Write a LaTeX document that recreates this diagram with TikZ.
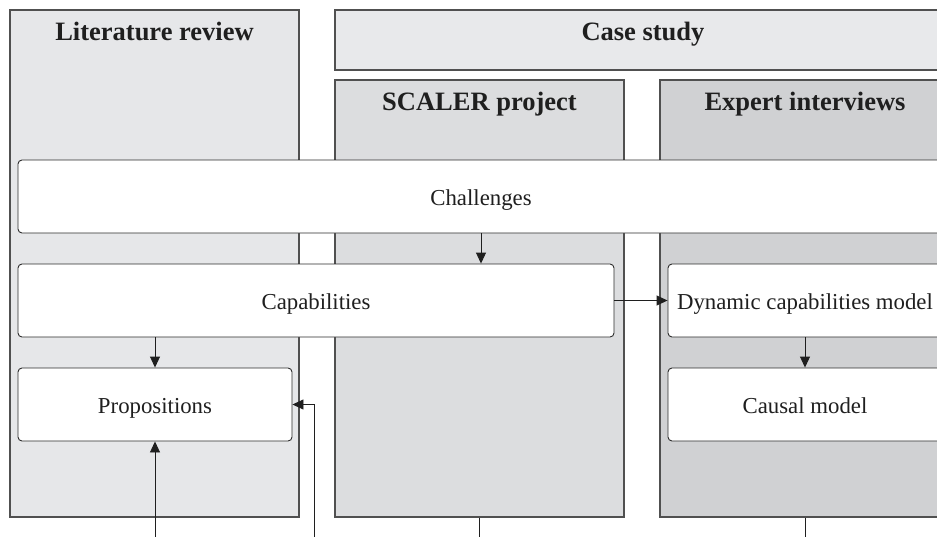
\documentclass[tikz,border=0pt]{standalone}
\usepackage{fontspec}
\setmainfont{Liberation Serif}
\usetikzlibrary{arrows.meta}

\definecolor{litfill}{RGB}{230,231,233}
\definecolor{headfill}{RGB}{232,233,235}
\definecolor{scalerfill}{RGB}{220,221,223}
\definecolor{expertfill}{RGB}{208,209,211}
\definecolor{panelline}{RGB}{80,80,80}
\definecolor{boxline}{RGB}{45,45,45}

\tikzset{
  panel/.style={draw=panelline, line width=1.1pt, inner sep=0pt},
  title/.style={font=\fontsize{26.5}{30}\selectfont\bfseries, text=black!88, anchor=base, yshift=-31pt},
  stage/.style={draw=boxline, line width=0.9pt, fill=white, rounded corners=4pt,
    inner sep=0pt, minimum height=73pt, text height=17pt, text depth=0pt,
    font=\fontsize{22.8}{26}\selectfont, text=black!88},
  flow/.style={draw=black!88, line width=0.9pt, -{Triangle[length=11pt,width=10pt]}},
  feed/.style={draw=black!88, line width=0.9pt}
}

\begin{document}
\begin{tikzpicture}[x=1pt, y=-1pt]
\clip (0,0) rectangle (937,536);
\fill[white] (0,0) rectangle (937,536);

% columns
\node[panel, fill=litfill, minimum width=289pt, minimum height=507pt] (lit) at (154.5,263.5) {};
\node[panel, fill=headfill, minimum width=616pt, minimum height=60pt] (case) at (643,40) {};
\node[panel, fill=scalerfill, minimum width=289pt, minimum height=437pt] (scaler) at (479.5,298.5) {};
\node[panel, fill=expertfill, minimum width=290pt, minimum height=437pt] (expert) at (805,298.5) {};

\node[title] (littitle) at (lit.north) {Literature review};
\node[title] (casetitle) at (case.north) {Case study};
\node[title] (scalertitle) at (scaler.north) {SCALER project};
\node[title] (experttitle) at (expert.north) {Expert interviews};

% stages
\node[stage, minimum width=926pt] (chall) at (481,196.5) {Challenges};
\node[stage, minimum width=596pt] (capab) at (316,300.5) {Capabilities};
\node[stage, minimum width=274pt] (dcm) at (805,300.5) {Dynamic capabilities model};
\node[stage, minimum width=274pt] (props) at (155,404.5) {Propositions};
\node[stage, minimum width=274pt] (causal) at (805,404.5) {Causal model};

\coordinate (litin) at (155,545);
\coordinate (scalerin) at (314,545);

% connectors
\draw[flow] (chall.south) -- (chall.south |- capab.north);
\draw[flow] (capab.east) -- (dcm.west);
\draw[flow] (capab.south -| props.north) -- (props.north);
\draw[flow] (dcm.south) -- (causal.north);
\draw[flow] (litin) -- (props.south);
\draw[flow] (scalerin) |- (props.east);
\draw[feed] (scaler.south) -- ++(0,30);
\draw[feed] (expert.south) -- ++(0,30);
\end{tikzpicture}
\end{document}
